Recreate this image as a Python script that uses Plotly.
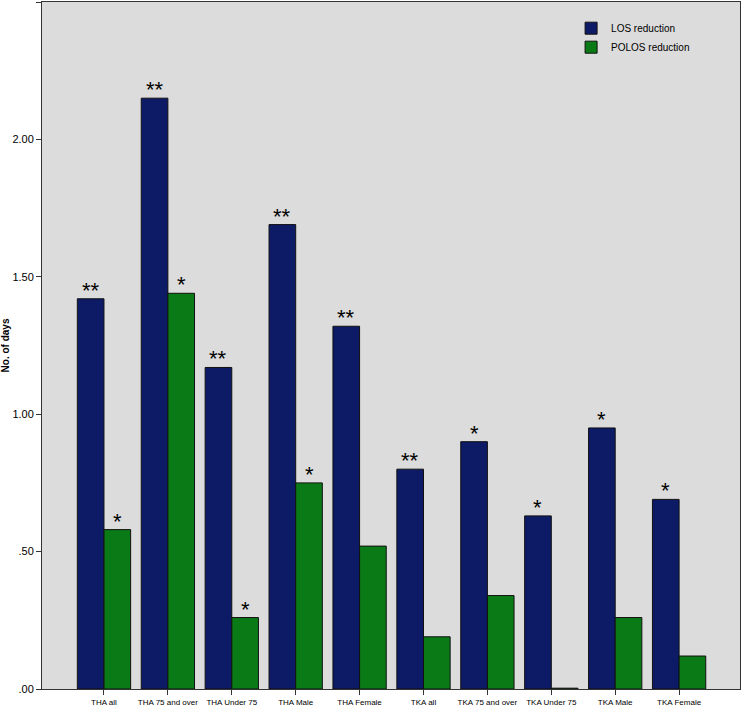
import plotly.graph_objects as go

categories = ["THA all", "THA 75 and over", "THA Under 75", "THA Male", "THA Female",
              "TKA all", "TKA 75 and over", "TKA Under 75", "TKA Male", "TKA Female"]
los_reduction = [1.42, 2.15, 1.17, 1.69, 1.32, 0.80, 0.90, 0.63, 0.95, 0.69]
polos_reduction = [0.58, 1.44, 0.26, 0.75, 0.52, 0.19, 0.34, 0.003, 0.26, 0.12]
los_sig = ["**", "**", "**", "**", "**", "**", "*", "*", "*", "*"]
polos_sig = ["*", "*", "*", "*", "", "", "", "", "", ""]
ytick_vals = [0, 0.5, 1.0, 1.5, 2.0, 2.5]
ytick_text = [".00", ".50", "1.00", "1.50", "2.00", "2.50"]

FONT = "Liberation Sans, Arial, sans-serif"
BARGAP = 0.166
# pixel width of one category slot (used only to offset the star labels over each bar of a group)
SLOT_PX = 698 / (9.953 + 0.97)
HALF_BAR_PX = SLOT_PX * (1 - BARGAP) / 4

fig = go.Figure()
fig.add_trace(go.Bar(
    x=categories, y=los_reduction, name="LOS reduction",
    marker=dict(color="#0d1a66", line=dict(color="#111111", width=1)),
))
fig.add_trace(go.Bar(
    x=categories, y=polos_reduction, name="POLOS reduction",
    marker=dict(color="#0a7a17", line=dict(color="#111111", width=1)),
))

for cat, val, sig in zip(categories, los_reduction, los_sig):
    if sig:
        fig.add_annotation(x=cat, y=val, text=sig, showarrow=False, xanchor="center",
                           yanchor="bottom", xshift=-HALF_BAR_PX, yshift=-6,
                           font=dict(size=22, color="black", family=FONT))
for cat, val, sig in zip(categories, polos_reduction, polos_sig):
    if sig:
        fig.add_annotation(x=cat, y=val, text=sig, showarrow=False, xanchor="center",
                           yanchor="bottom", xshift=HALF_BAR_PX, yshift=-6,
                           font=dict(size=22, color="black", family=FONT))

fig.update_layout(
    width=742, height=707,
    margin=dict(l=42, r=2, t=2, b=18),
    paper_bgcolor="white", plot_bgcolor="#dcdcdc",
    barmode="group", bargap=BARGAP, bargroupgap=0,
    font=dict(family=FONT, color="black"),
    showlegend=True,
    legend=dict(
        x=0.758, y=0.983, xanchor="left", yanchor="top",
        bgcolor="rgba(0,0,0,0)", font=dict(size=10, family=FONT),
        itemwidth=30, tracegroupgap=0,
    ),
)
fig.update_xaxes(
    range=[-0.97, 9.953], showgrid=False, showline=True, mirror=True,
    linecolor="#333333", linewidth=1, ticks="outside", ticklen=5,
    tickcolor="#333333", tickfont=dict(size=8, family=FONT), zeroline=False,
    tickangle=0, automargin=False,
)
fig.update_yaxes(
    range=[0, 2.5], showgrid=False, showline=True, mirror=True,
    linecolor="#333333", linewidth=1, ticks="outside", ticklen=5,
    tickcolor="#333333", tickvals=ytick_vals, ticktext=ytick_text,
    tickfont=dict(size=11, family=FONT), zeroline=False, automargin=False,
    title=dict(text="<b>No. of days</b>", font=dict(size=10, family=FONT), standoff=0),
)

fig.write_html("out.html", config={"displayModeBar": False},
               post_script="document.body.style.margin='0';")
